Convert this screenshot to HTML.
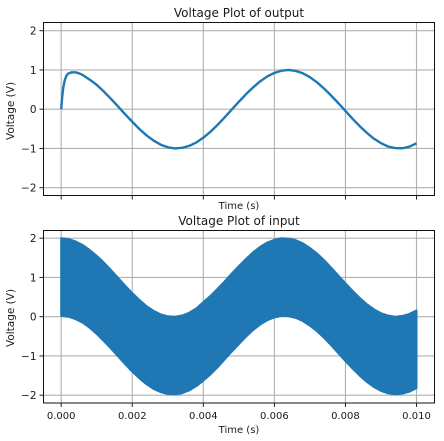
<!DOCTYPE html>
<html lang="en">
<head>
<meta charset="utf-8">
<title>Voltage Plots</title>
<style>
html,body{margin:0;padding:0;background:#fff;width:444px;height:441px;overflow:hidden}
svg{display:block;font-family:"DejaVu Sans","Liberation Sans",sans-serif;fill:#000}
</style>
</head>
<body>
<svg id="figure" xmlns="http://www.w3.org/2000/svg" width="444" height="441" viewBox="0 0 444 441"></svg>
<script>
const xTicks = [0, 0.002, 0.004, 0.006, 0.008, 0.01];
const xTickLabels = ["0.000", "0.002", "0.004", "0.006", "0.008", "0.010"];
const yTicks = [-2, -1, 0, 1, 2];
const yTickLabels = ["\u22122", "\u22121", "0", "1", "2"];

const outputTimes = [0, 0.00001, 0.00003, 0.00006, 0.0001, 0.00015, 0.0002, 0.0003, 0.0004, 0.0005, 0.0006, 0.0008, 0.001, 0.0012, 0.0014, 0.0016, 0.0018, 0.002, 0.0022, 0.0024, 0.0026, 0.0028, 0.003, 0.0032, 0.0034, 0.0036, 0.0038, 0.004, 0.0042, 0.0044, 0.0046, 0.0048, 0.005, 0.0052, 0.0054, 0.0056, 0.0058, 0.006, 0.0062, 0.0064, 0.0066, 0.0068, 0.007, 0.0072, 0.0074, 0.0076, 0.0078, 0.008, 0.0082, 0.0084, 0.0086, 0.0088, 0.009, 0.0092, 0.0094, 0.0096, 0.0098, 0.01];
const outputVolts = [0, 0.12, 0.33, 0.56, 0.74, 0.86, 0.91, 0.94, 0.94, 0.915, 0.875, 0.755, 0.62, 0.45, 0.265, 0.07, -0.13, -0.32, -0.505, -0.665, -0.80, -0.905, -0.97, -1.0, -0.985, -0.935, -0.85, -0.725, -0.575, -0.40, -0.21, -0.01, 0.19, 0.38, 0.555, 0.71, 0.835, 0.925, 0.98, 1.0, 0.975, 0.915, 0.815, 0.685, 0.525, 0.345, 0.155, -0.045, -0.245, -0.43, -0.60, -0.75, -0.865, -0.95, -0.99, -0.995, -0.955, -0.87];

const inputTimes = [0, 0.0002, 0.0004, 0.0006, 0.0008, 0.001, 0.0012, 0.0014, 0.0016, 0.0018, 0.002, 0.0022, 0.0024, 0.0026, 0.0028, 0.003, 0.0032, 0.0034, 0.0036, 0.0038, 0.004, 0.0042, 0.0044, 0.0046, 0.0048, 0.005, 0.0052, 0.0054, 0.0056, 0.0058, 0.006, 0.0062, 0.0064, 0.0066, 0.0068, 0.007, 0.0072, 0.0074, 0.0076, 0.0078, 0.008, 0.0082, 0.0084, 0.0086, 0.0088, 0.009, 0.0092, 0.0094, 0.0096, 0.0098, 0.01];
const inputUpper = [2.0, 1.98, 1.92, 1.83, 1.70, 1.55, 1.38, 1.19, 0.99, 0.79, 0.60, 0.43, 0.27, 0.15, 0.06, 0.01, 0.0, 0.03, 0.10, 0.21, 0.37, 0.53, 0.71, 0.90, 1.10, 1.29, 1.47, 1.64, 1.78, 1.89, 1.96, 2.0, 1.99, 1.95, 1.87, 1.75, 1.61, 1.44, 1.25, 1.05, 0.85, 0.66, 0.48, 0.32, 0.19, 0.09, 0.03, 0.0, 0.02, 0.07, 0.16];
const inputLower = [0.02, 0.0, -0.06, -0.15, -0.28, -0.44, -0.62, -0.81, -1.01, -1.21, -1.40, -1.57, -1.72, -1.84, -1.92, -1.97, -1.98, -1.95, -1.88, -1.77, -1.63, -1.47, -1.29, -1.09, -0.89, -0.70, -0.51, -0.34, -0.20, -0.09, -0.02, 0.02, 0.01, -0.03, -0.11, -0.23, -0.37, -0.54, -0.73, -0.93, -1.13, -1.32, -1.50, -1.66, -1.79, -1.89, -1.95, -1.98, -1.96, -1.91, -1.82];

const NS = "http://www.w3.org/2000/svg";
const fig = document.getElementById("figure");

function make(tag, attrs, parent) {
  const el = document.createElementNS(NS, tag);
  for (const k in attrs) el.setAttribute(k, attrs[k]);
  parent.appendChild(el);
  return el;
}

const axLeft = 43.5, axRight = 434.5;
const xZero = 61.2, xPerSecond = 35530;
function xScale(t) { return xZero + t * xPerSecond; }
function yScaleFor(zeroY) {
  return function (v) { return zeroY - v * 39.25; };
}

function drawAxes(prefix, top, bottom, zeroY, showXLabels) {
  const yScale = yScaleFor(zeroY);
  const group = make("g", {}, fig);
  
  

  xTicks.forEach(function (t, i) {
    const x = xScale(t);
    const grid = make("line", { x1: x, x2: x, y1: top, y2: bottom, stroke: "#b0b0b0", "stroke-width": 1.1 }, group);
    
    
    const tick = make("line", { x1: x, x2: x, y1: bottom, y2: bottom + 4, stroke: "#222", "stroke-width": 1 }, group);
    
    
    if (showXLabels) {
      const label = make("text", { x: x, y: bottom + 16, "text-anchor": "middle", "font-size": 10, fill: "#1a1a1a" }, group);
      label.textContent = xTickLabels[i];
      
      
    }
  });

  yTicks.forEach(function (v, i) {
    const y = yScale(v);
    const grid = make("line", { x1: axLeft, x2: axRight, y1: y, y2: y, stroke: "#b0b0b0", "stroke-width": 1.1 }, group);
    
    
    const tick = make("line", { x1: axLeft - 4, x2: axLeft, y1: y, y2: y, stroke: "#222", "stroke-width": 1 }, group);
    
    
    const label = make("text", { x: axLeft - 7, y: y + 3.8, "text-anchor": "end", "font-size": 10.5, fill: "#1a1a1a" }, group);
    label.textContent = yTickLabels[i];
    
    
  });
  return yScale;
}

function drawFrame(prefix, top, bottom) {
  const frame = make("rect", { x: axLeft, y: top, width: axRight - axLeft, height: bottom - top, fill: "none", stroke: "#111", "stroke-width": 1 }, fig);
  
  
}

function drawText(name, text, x, y, size, rotate) {
  const attrs = { x: x, y: y, "text-anchor": "middle", "font-size": size, fill: "#1a1a1a" };
  if (rotate) attrs.transform = "rotate(-90 " + x + " " + y + ")";
  const el = make("text", attrs, fig);
  el.textContent = text;
  
  
}

/* Output panel */
const yOut = drawAxes("output", 22.5, 195.5, 109.2, false);
const outputPoints = outputTimes.map(function (t, i) {
  return xScale(t).toFixed(2) + "," + yOut(outputVolts[i]).toFixed(2);
}).join(" ");
const outputLine = make("polyline", { points: outputPoints, fill: "none", stroke: "#1f77b4", "stroke-width": 2.4, "stroke-linejoin": "round" }, fig);


drawFrame("output", 22.5, 195.5);

/* Input panel */
const yIn = drawAxes("input", 230.5, 403, 316.7, true);
const upperPoints = inputTimes.map(function (t, i) {
  return xScale(t).toFixed(2) + "," + yIn(inputUpper[i]).toFixed(2);
});
const lowerPoints = inputTimes.map(function (t, i) {
  return xScale(t).toFixed(2) + "," + yIn(inputLower[i]).toFixed(2);
}).reverse();
const inputBand = make("polygon", { points: upperPoints.concat(lowerPoints).join(" "), fill: "#1f77b4", stroke: "#1f77b4", "stroke-width": 2, "stroke-linejoin": "round" }, fig);


drawFrame("input", 230.5, 403);

/* Titles and axis labels */
drawText("output-title", "Voltage Plot of output", 239, 17, 12, false);
drawText("output-x-axis-title", "Time (s)", 239, 209, 10, false);
drawText("output-y-axis-title", "Voltage (V)", 14, 111, 10.5, true);
drawText("input-title", "Voltage Plot of input", 239, 225, 12, false);
drawText("input-x-axis-title", "Time (s)", 239, 433, 10, false);
drawText("input-y-axis-title", "Voltage (V)", 14, 318, 10.5, true);
</script>
</body>
</html>
